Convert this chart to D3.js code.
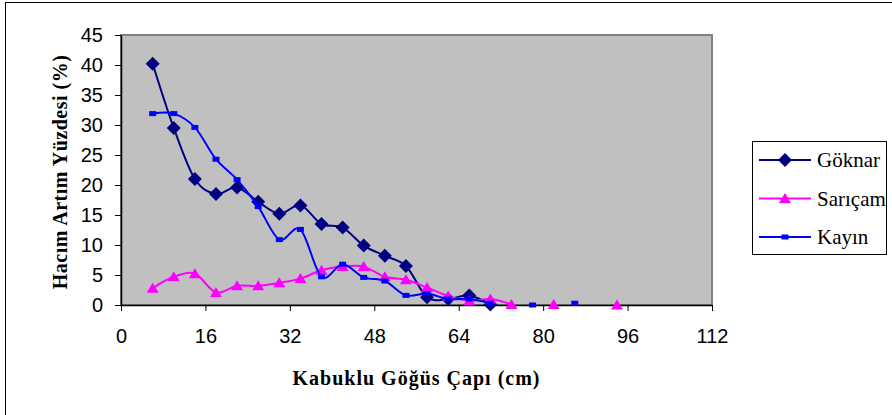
<!DOCTYPE html>
<html>
<head>
<meta charset="utf-8">
<script src="https://cdn.jsdelivr.net/npm/d3@7"></script>
<style>
  body { margin: 0; background: #fff; }
  svg { display: block; }
  .serif { font-family: "Liberation Serif", "DejaVu Serif", "Times New Roman", Times, serif; }
  .sans { font-family: "Liberation Sans", Arial, sans-serif; }
</style>
</head>
<body>
<svg id="chart" width="892" height="415"></svg>
<script>
// DATA --------------------------------------------------------------------------------------------
var diameters = [6, 10, 14, 18, 22, 26, 30, 34, 38, 42, 46, 50, 54, 58, 62, 66, 70, 74, 78, 82, 86, 90, 94];
var goknar  = [40.2, 29.5, 21.0, 18.5, 19.6, 17.2, 15.2, 16.6, 13.5, 12.9, 9.9, 8.2, 6.5, 1.3, 1.0, 1.6, 0.1,
               null, null, null, null, null, null];
var saricam = [2.8, 4.7, 5.2, 2.1, 3.2, 3.2, 3.7, 4.4, 5.8, 6.4, 6.4, 4.7, 4.2, 2.9, 1.5, 0.7, 1.0, 0.1,
               null, 0.1, null, null, 0.0];
var kayin   = [31.9, 31.9, 29.6, 24.3, 20.9, 16.4, 10.9, 12.6, 4.7, 6.8, 4.6, 4.0, 1.6, 1.9, 1.0, 1.0, 0.3,
               null, 0.0, null, 0.3, null, null];
var xTicks = [0, 16, 32, 48, 64, 80, 96, 112];
var yTicks = [0, 5, 10, 15, 20, 25, 30, 35, 40, 45];
var seriesNames = ["Göknar", "Sarıçam", "Kayın"];

var series = [
  { name: seriesNames[0], values: goknar,  color: "#000080", marker: "diamond" },
  { name: seriesNames[1], values: saricam, color: "#FF00FF", marker: "triangle" },
  { name: seriesNames[2], values: kayin,   color: "#0000FF", marker: "square" }
];

// LAYOUT ------------------------------------------------------------------------------------------
var plot = { left: 121, top: 35, right: 712, bottom: 305 };

var svg = d3.select("#chart");

// Outer chart border (only top/left visible in the crop)
svg.append("rect")
  .attr("x", 5.5).attr("y", 2.5)
  .attr("width", 900).attr("height", 420)
  .attr("fill", "#fff")
  .attr("stroke", "#000")
  .attr("stroke-width", 1);

var x = d3.scaleLinear().domain([0, 112]).range([plot.left, plot.right]);
var y = d3.scaleLinear().domain([0, 45]).range([plot.bottom, plot.top]);

// Plot area
svg.append("rect")
  .attr("x", plot.left).attr("y", plot.top)
  .attr("width", plot.right - plot.left).attr("height", plot.bottom - plot.top)
  .attr("fill", "#C0C0C0")
  .attr("stroke", "#808080")
  .attr("stroke-width", 2);

// Axes
var xAxis = svg.append("g")
  .attr("transform", "translate(0," + plot.bottom + ")")
  .call(d3.axisBottom(x).tickValues(xTicks).tickSize(6).tickPadding(18).tickSizeOuter(0));

var yAxis = svg.append("g")
  .attr("transform", "translate(" + plot.left + ",0)")
  .call(d3.axisLeft(y).tickValues(yTicks).tickSize(6).tickPadding(12).tickSizeOuter(0));

[xAxis, yAxis].forEach(function(a) {
  a.attr("font-family", null).attr("font-size", null);
  a.select(".domain").attr("stroke", "#000").attr("stroke-width", 1.5);
  a.selectAll(".tick line").attr("stroke", "#000");
  a.selectAll(".tick text")
    .attr("class", "sans")
    .attr("fill", "#000")
    .style("font-size", "20px");
});

// Axis titles
svg.append("text")
  .attr("class", "serif")
  .attr("x", (plot.left + plot.right) / 2)
  .attr("y", 385)
  .attr("text-anchor", "middle")
  .style("font-weight", "bold")
  .style("font-size", "20px")
  .style("letter-spacing", "1px")
  .text("Kabuklu Göğüs Çapı (cm)");

svg.append("text")
  .attr("class", "serif")
  .attr("transform", "translate(67," + ((plot.top + plot.bottom) / 2 + 2) + ") rotate(-90)")
  .attr("text-anchor", "middle")
  .style("font-weight", "bold")
  .style("font-size", "20px")
  .style("letter-spacing", "0.5px")
  .text("Hacım Artım Yüzdesi (%)");

// Marker shapes
function markerPath(type) {
  if (type == "diamond") return "M0,-7L7,0L0,7L-7,0Z";
  if (type == "triangle") return "M0,-5.5L6,4.5L-6,4.5Z";
  return "M-3.5,-2.5H3.5V2.5H-3.5Z";
}

// Smoothed lines, gaps where values are missing
var line = d3.line()
  .defined(function(d) { return d.v != null; })
  .x(function(d) { return x(d.x); })
  .y(function(d) { return y(d.v); })
  .curve(d3.curveCatmullRom.alpha(0));

series.forEach(function(s) {
  var pts = diameters.map(function(d, i) { return { x: d, v: s.values[i] }; });
  var g = svg.append("g");

  g.append("path")
    .datum(pts)
    .attr("d", line)
    .attr("fill", "none")
    .attr("stroke", s.color)
    .attr("stroke-width", 2);

  g.selectAll("path.mk")
    .data(pts.filter(function(d) { return d.v != null; }))
    .enter().append("path")
    .attr("class", "mk")
    .attr("transform", function(d) { return "translate(" + x(d.x) + "," + y(d.v) + ")"; })
    .attr("d", markerPath(s.marker))
    .attr("fill", s.color);
});

// Legend
var legend = svg.append("g");
legend.append("rect")
  .attr("x", 752.5).attr("y", 141.5)
  .attr("width", 134).attr("height", 113)
  .attr("fill", "#fff")
  .attr("stroke", "#000")
  .attr("stroke-width", 1);

var legendY = d3.scalePoint().domain(seriesNames).range([160, 237]);

series.forEach(function(s) {
  var ly = legendY(s.name);
  legend.append("line")
    .attr("x1", 759).attr("x2", 811)
    .attr("y1", ly).attr("y2", ly)
    .attr("stroke", s.color)
    .attr("stroke-width", 2);
  legend.append("path")
    .attr("transform", "translate(785," + ly + ")")
    .attr("d", markerPath(s.marker))
    .attr("fill", s.color);
  legend.append("text")
    .attr("class", "serif")
    .attr("x", 817)
    .attr("y", ly + 7)
    .style("font-size", "21px")
    .text(s.name);
});
</script>
</body>
</html>
